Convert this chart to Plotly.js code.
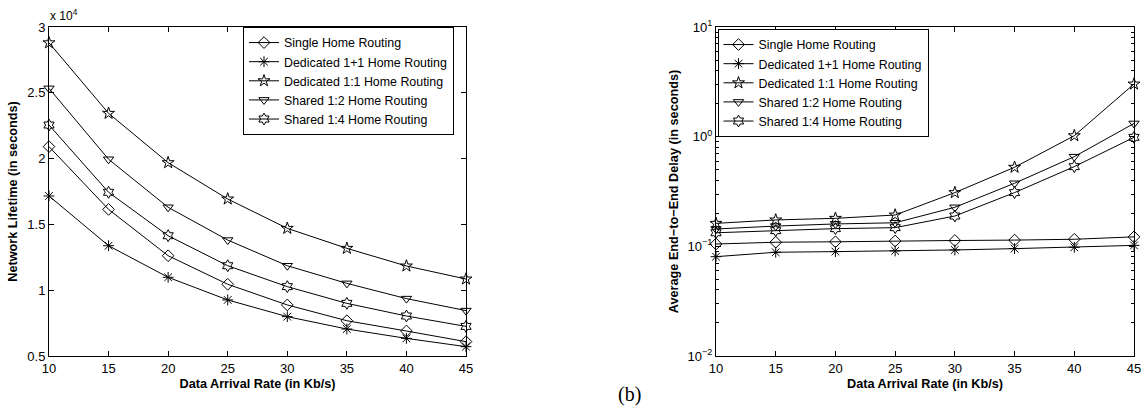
<!DOCTYPE html>
<html>
<head>
<meta charset="utf-8">
<script src="https://cdn.plot.ly/plotly-3.0.1.min.js"></script>
<style>html,body{margin:0;padding:0;background:#fff;}#chart{width:1141px;height:410px;}</style>
</head>
<body>
<div id="chart"></div>
<script>
// ---- data ----
const rates = [10, 15, 20, 25, 30, 35, 40, 45];
const seriesNames = ["Single Home Routing", "Dedicated 1+1 Home Routing", "Dedicated 1:1 Home Routing", "Shared 1:2 Home Routing", "Shared 1:4 Home Routing"];
const seriesSymbols = ["diamond-open", "asterisk-open", "star-open", "triangle-down-open", "hexagram-open"];

// Network lifetime (seconds)
const lifeSingle    = [20910, 16140, 12620, 10450, 8880, 7680, 6900, 6090];
const lifeDed1p1    = [17160, 13380, 10980, 9260, 7990, 7050, 6340, 5710];
const lifeDed1to1   = [28800, 23440, 19690, 16930, 14700, 13180, 11840, 10850];
const lifeShared1to2 = [25340, 19950, 16300, 13810, 11860, 10520, 9360, 8450];
const lifeShared1to4 = [22550, 17440, 14140, 11860, 10270, 9000, 8040, 7250];

// Average end-to-end delay (seconds)
const delaySingle    = [0.105, 0.109, 0.110, 0.112, 0.113, 0.114, 0.116, 0.122];
const delayDed1p1    = [0.0805, 0.0883, 0.0895, 0.0908, 0.0927, 0.0953, 0.098, 0.102];
const delayDed1to1   = [0.162, 0.174, 0.180, 0.193, 0.309, 0.526, 1.02, 3.02];
const delayShared1to2 = [0.144, 0.153, 0.160, 0.164, 0.227, 0.376, 0.657, 1.32];
const delayShared1to4 = [0.133, 0.139, 0.145, 0.148, 0.189, 0.309, 0.533, 0.986];

const lifeTickVals = [5000, 10000, 15000, 20000, 25000, 30000];
const lifeTickText = ["0.5", "1", "1.5", "2", "2.5", "3"];
const delayTickVals = [0.01, 0.1, 1, 10];
const delayTickText = ["10<sup>−2</sup>", "10<sup>−1</sup>", "10<sup>0</sup>", "10<sup>1</sup>"];
const rateTicks = [10, 15, 20, 25, 30, 35, 40, 45];

// ---- build ----
const W = 1141;
const lifeSeries = [lifeSingle, lifeDed1p1, lifeDed1to1, lifeShared1to2, lifeShared1to4];
const delaySeries = [delaySingle, delayDed1p1, delayDed1to1, delayShared1to2, delayShared1to4];
const font = "Liberation Sans, Arial, Helvetica, sans-serif";

const traces = [];
lifeSeries.forEach((ys, i) => {
  traces.push({
    x: rates, y: ys, name: seriesNames[i], xaxis: 'x', yaxis: 'y', legend: 'legend',
    mode: 'lines+markers', cliponaxis: false,
    line: {color: '#000', width: 1},
    marker: {symbol: seriesSymbols[i], size: 9, color: '#000', line: {color: '#000', width: 1}}
  });
});
delaySeries.forEach((ys, i) => {
  traces.push({
    x: rates, y: ys, name: seriesNames[i], xaxis: 'x2', yaxis: 'y2', legend: 'legend2',
    mode: 'lines+markers', cliponaxis: false,
    line: {color: '#000', width: 1},
    marker: {symbol: seriesSymbols[i], size: 9, color: '#000', line: {color: '#000', width: 1}}
  });
});

const minorLog = [];
for (let e = -2; e < 1; e++) for (let d = 2; d <= 9; d++) minorLog.push(d * Math.pow(10, e));

const axisBase = {
  showline: true, linecolor: '#000', linewidth: 1, mirror: 'ticks',
  ticks: 'inside', ticklen: 5, tickcolor: '#000', tickwidth: 1,
  showgrid: false, zeroline: false, automargin: false, ticklabeloverflow: 'allow',
  tickfont: {family: font, size: 13, color: '#000'}
};

const legendBase = {
  xanchor: 'left', yanchor: 'top', xref: 'paper', yref: 'paper',
  bgcolor: '#fff', bordercolor: '#000', borderwidth: 1,
  font: {family: font, size: 12.4, color: '#000'}, tracegroupgap: 0
};

const layout = {
  width: W, height: 410,
  margin: {l: 0, r: 0, t: 27, b: 54},
  paper_bgcolor: '#fff', plot_bgcolor: '#fff',
  showlegend: true,
  xaxis: Object.assign({}, axisBase, {
    domain: [49 / W, 466 / W], range: [10, 45], tickvals: rateTicks, anchor: 'y',
    title: {text: '<b>Data Arrival Rate (in Kb/s)</b>', font: {family: font, size: 12.7, color: '#000'}, standoff: 4}
  }),
  yaxis: Object.assign({}, axisBase, {
    domain: [0, 1], range: [5000, 30000], tickvals: lifeTickVals, ticktext: lifeTickText, anchor: 'x',
    title: {text: '<b>Network Lifetime (in seconds)</b>', font: {family: font, size: 12.7, color: '#000'}, standoff: 6}
  }),
  xaxis2: Object.assign({}, axisBase, {
    domain: [716 / W, 1134 / W], range: [10, 45], tickvals: rateTicks, anchor: 'y2',
    title: {text: '<b>Data Arrival Rate (in Kb/s)</b>', font: {family: font, size: 12.7, color: '#000'}, standoff: 4}
  }),
  yaxis2: Object.assign({}, axisBase, {
    domain: [0, 1], type: 'log', range: [-2, 1], tickvals: delayTickVals, ticktext: delayTickText, anchor: 'x2',
    minor: {tickvals: minorLog, ticks: 'inside', ticklen: 3, tickcolor: '#000'},
    title: {text: '<b>Average End−to−End Delay (in seconds)</b>', font: {family: font, size: 12.7, color: '#000'}, standoff: 6}
  }),
  legend: Object.assign({}, legendBase, {x: 243 / W, y: 1}),
  legend2: Object.assign({}, legendBase, {x: 717.5 / W, y: 1 - 2 / 329}),
  annotations: [
    {text: 'x 10<sup>4</sup>', xref: 'paper', yref: 'paper', x: 48 / W, y: 1, xanchor: 'left', yanchor: 'bottom',
     showarrow: false, font: {family: font, size: 12, color: '#000'}, yshift: 2},
    {text: '(b)', xref: 'paper', yref: 'paper', x: 629 / W, y: -(394 - 356) / 329, xanchor: 'center', yanchor: 'middle',
     showarrow: false, font: {family: 'Liberation Serif, Times New Roman, serif', size: 20, color: '#000'}}
  ]
};

Plotly.newPlot('chart', traces, layout, {staticPlot: true, displayModeBar: false});
</script>
</body>
</html>
